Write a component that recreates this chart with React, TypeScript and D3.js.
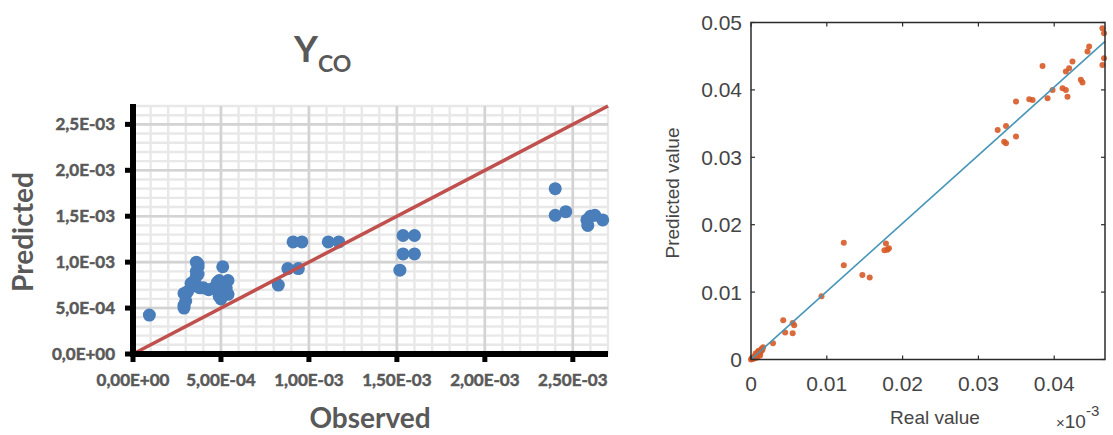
import React from "react";
import * as d3 from "d3";

// ---------- Left panel data (Excel style, Y_CO) ----------
const leftObserved = [
  0.093, 0.29, 0.29, 0.30, 0.29, 0.31, 0.33, 0.35, 0.36, 0.36, 0.37, 0.36, 0.37, 0.38, 0.40, 0.43, 0.46,
  0.48, 0.49, 0.49, 0.50, 0.51, 0.52, 0.54, 0.54, 0.53, 0.34, 0.37,
  0.826, 0.88, 0.94, 0.91, 0.96, 1.11, 1.17,
  1.517, 1.535, 1.60, 1.535, 1.60,
  2.40, 2.40, 2.46, 2.58, 2.585, 2.625, 2.67, 2.60,
].map((v) => v * 1e-3);
const leftPredicted = [
  0.424, 0.50, 0.53, 0.58, 0.66, 0.68, 0.77, 0.80, 0.85, 0.90, 0.95, 1.00, 0.98, 0.72, 0.72, 0.70, 0.72,
  0.78, 0.80, 0.63, 0.60, 0.95, 0.68, 0.80, 0.65, 0.72, 0.74, 0.87,
  0.75, 0.93, 0.93, 1.22, 1.22, 1.22, 1.22,
  0.913, 1.09, 1.09, 1.29, 1.29,
  1.80, 1.51, 1.55, 1.46, 1.40, 1.51, 1.46, 1.50,
].map((v) => v * 1e-3);
const leftXTicks = [0, 5e-4, 1e-3, 1.5e-3, 2e-3, 2.5e-3];
const leftXTickLabels = ["0,00E+00", "5,00E-04", "1,00E-03", "1,50E-03", "2,00E-03", "2,50E-03"];
const leftYTicks = [0, 5e-4, 1e-3, 1.5e-3, 2e-3, 2.5e-3];
const leftYTickLabels = ["0,0E+00", "5,0E-04", "1,0E-03", "1,5E-03", "2,0E-03", "2,5E-03"];
const leftMax = 2.7e-3;
const leftLine = [0, 2.7e-3];

// ---------- Right panel data (MATLAB style) ----------
const rightReal = [
  0.0000, 0.0002, 0.0003, 0.0005, 0.0006, 0.0008, 0.0010, 0.0012, 0.0013, 0.0015, 0.0014, 0.0016, 0.0010,
  0.0006, 0.0004, 0.0001, 0.0008, 0.0012, 0.0003, 0.0009,
  0.0029, 0.00425, 0.0045, 0.0055, 0.0055, 0.0057,
  0.0093, 0.01224, 0.01224, 0.01469, 0.01566,
  0.0176, 0.0180, 0.0182, 0.0178,
  0.03254, 0.03364, 0.03364, 0.0334, 0.03496, 0.03496, 0.03671, 0.03715, 0.03846, 0.03912, 0.03978,
  0.0411, 0.04154, 0.04175, 0.04154, 0.04197, 0.04241, 0.04351, 0.04373, 0.04439, 0.04461, 0.04636,
  0.04636, 0.04658, 0.04658,
];
const rightPredicted = [
  0.0000, 0.0001, 0.0003, 0.0002, 0.0005, 0.0006, 0.0008, 0.0010, 0.0012, 0.0014, 0.0016, 0.0018, 0.0013,
  0.0009, 0.0004, 0.0002, 0.0003, 0.0006, 0.0001, 0.0011,
  0.0024, 0.00584, 0.0040, 0.0054, 0.0039, 0.0051,
  0.0094, 0.01733, 0.0140, 0.01252, 0.01218,
  0.0162, 0.0163, 0.0165, 0.0172,
  0.03406, 0.03465, 0.03208, 0.0323, 0.03307, 0.03827, 0.03861, 0.03851, 0.04356, 0.03876, 0.0400,
  0.04025, 0.0400, 0.0390, 0.04272, 0.04322, 0.04421, 0.04149, 0.04109, 0.04569, 0.04644, 0.04916,
  0.04371, 0.0447, 0.0484,
];
const rightXTicks = [0, 0.01, 0.02, 0.03, 0.04];
const rightXTickLabels = ["0", "0.01", "0.02", "0.03", "0.04"];
const rightYTicks = [0, 0.01, 0.02, 0.03, 0.04, 0.05];
const rightYTickLabels = ["0", "0.01", "0.02", "0.03", "0.04", "0.05"];
const rightXMax = 0.0467;
const rightYMax = 0.05;
const rightFitX = [0, 0.0467];
const rightFitY = [0, 0.0472];

const LGRAY = "#595959";

function LeftPanel() {
  const x = d3.scaleLinear().domain([0, leftMax]).range([133, 608]);
  const y = d3.scaleLinear().domain([0, leftMax]).range([354, 106]);
  const minor = d3.range(0, leftMax + 1e-9, 1e-4);
  const font = "Lato, 'Open Sans', sans-serif";
  const line = d3.line<number>().x((d) => x(d)).y((d) => y(d));
  return (
    <g>
      {/* minor grid */}
      {minor.map((v, i) => (
        <g key={"mg" + i}>
          <line x1={x(v)} x2={x(v)} y1={y(leftMax)} y2={y(0)} stroke="#e8e8e8" strokeWidth={2.4} />
          <line x1={x(0)} x2={x(leftMax)} y1={y(v)} y2={y(v)} stroke="#e8e8e8" strokeWidth={2.4} />
        </g>
      ))}
      {/* major grid */}
      {leftXTicks.map((v, i) => (
        <line key={"gx" + i} x1={x(v)} x2={x(v)} y1={y(leftMax)} y2={y(0)} stroke="#d3d3d3" strokeWidth={2.6} />
      ))}
      {leftYTicks.map((v, i) => (
        <line key={"gy" + i} x1={x(0)} x2={x(leftMax)} y1={y(v)} y2={y(v)} stroke="#d3d3d3" strokeWidth={2.6} />
      ))}
      {/* points */}
      {leftObserved.map((v, i) => (
        <circle key={"p" + i} cx={x(v)} cy={y(leftPredicted[i])} r={6.5} fill="#4a7ebb" />
      ))}
      {/* red line */}
      <path d={line(leftLine) || ""} stroke="#c0504d" strokeWidth={3.5} fill="none" />
      {/* axes */}
      <line x1={x(0)} x2={x(0)} y1={y(leftMax) - 2} y2={y(0) + 3} stroke="#000" strokeWidth={6} />
      <line x1={x(0) - 3} x2={x(leftMax)} y1={y(0)} y2={y(0)} stroke="#000" strokeWidth={6} />
      {leftYTicks.map((v, i) => (
        <line key={"ty" + i} x1={x(0) - 8} x2={x(0)} y1={y(v)} y2={y(v)} stroke="#000" strokeWidth={5} />
      ))}
      {leftXTicks.map((v, i) => (
        <line key={"tx" + i} x1={x(v)} x2={x(v)} y1={y(0)} y2={y(0) + 8} stroke="#000" strokeWidth={5} />
      ))}
      {/* tick labels */}
      {leftYTicks.map((v, i) => (
        <text key={"ly" + i} x={x(0) - 18} y={y(v)} dy="0.36em" textAnchor="end" fontFamily={font}
          fontWeight={700} fontSize={17} fill={LGRAY} stroke={LGRAY} strokeWidth={0.5}>{leftYTickLabels[i]}</text>
      ))}
      {leftXTicks.map((v, i) => (
        <text key={"lx" + i} x={x(v)} y={386} textAnchor="middle" fontFamily={font}
          fontWeight={700} fontSize={17} fill={LGRAY} stroke={LGRAY} strokeWidth={0.5}>{leftXTickLabels[i]}</text>
      ))}
      {/* axis titles */}
      <text x={370} y={428} textAnchor="middle" fontFamily={font} fontWeight={700} fontSize={28} fill={LGRAY}>Observed</text>
      <text transform="translate(33,232) rotate(-90)" textAnchor="middle" fontFamily={font} fontWeight={700}
        fontSize={28} fill={LGRAY}>Predicted</text>
      {/* title */}
      <text x={294} y={62} fontFamily={font} fontWeight={700} fontSize={37} fill={LGRAY}>
        Y<tspan fontSize={23} dy={10}>CO</tspan>
      </text>
    </g>
  );
}

function RightPanel() {
  const x = d3.scaleLinear().domain([0, rightXMax]).range([751, 1105]);
  const y = d3.scaleLinear().domain([0, rightYMax]).range([359.5, 22.5]);
  const font = "'Liberation Sans', Arial, sans-serif";
  const tc = "#454545";
  const fit = d3.line<number>().x((d) => x(d)).y((_, i) => y(rightFitY[i]));
  return (
    <g>
      {/* points */}
      {rightReal.map((v, i) => (
        <circle key={"o" + i} cx={x(v)} cy={y(rightPredicted[i])} r={3} fill="#d75a28" fillOpacity={0.9} />
      ))}
      <path d={fit(rightFitX) || ""} stroke="#4896b8" strokeWidth={1.6} fill="none" />
      {/* box */}
      <rect x={x(0)} y={y(rightYMax)} width={x(rightXMax) - x(0)} height={y(0) - y(rightYMax)} fill="none"
        stroke="#2b2b2b" strokeWidth={1.5} />
      {/* ticks inward */}
      {rightXTicks.map((v, i) => (
        <g key={"rxt" + i}>
          <line x1={x(v)} x2={x(v)} y1={y(0)} y2={y(0) - 4} stroke="#2b2b2b" strokeWidth={1.2} />
          <line x1={x(v)} x2={x(v)} y1={y(rightYMax)} y2={y(rightYMax) + 4} stroke="#2b2b2b" strokeWidth={1.2} />
        </g>
      ))}
      {rightYTicks.map((v, i) => (
        <g key={"ryt" + i}>
          <line x1={x(0)} x2={x(0) + 4} y1={y(v)} y2={y(v)} stroke="#2b2b2b" strokeWidth={1.2} />
          <line x1={x(rightXMax)} x2={x(rightXMax) - 4} y1={y(v)} y2={y(v)} stroke="#2b2b2b" strokeWidth={1.2} />
        </g>
      ))}
      {/* tick labels */}
      {rightXTicks.map((v, i) => (
        <text key={"rxl" + i} x={x(v)} y={391} textAnchor="middle" fontFamily={font} fontSize={21} fill={tc}>
          {rightXTickLabels[i]}
        </text>
      ))}
      {rightYTicks.map((v, i) => (
        <text key={"ryl" + i} x={742} y={y(v)} dy="0.36em" textAnchor="end" fontFamily={font} fontSize={21} fill={tc}>
          {rightYTickLabels[i]}
        </text>
      ))}
      <text x={935} y={424} textAnchor="middle" fontFamily={font} fontSize={19} fill={tc}>Real value</text>
      <text transform="translate(679,193) rotate(-90)" textAnchor="middle" fontFamily={font} fontSize={19} fill={tc}>
        Predicted value
      </text>
      <text x={1056} y={428} fontFamily={font} fontSize={19} fill={tc}>
        <tspan fontSize={15}>×</tspan>10<tspan fontSize={15} dy={-12}>-3</tspan>
      </text>
    </g>
  );
}

export default function App() {
  return (
    <svg width={1113} height={435} style={{ position: "absolute", left: 0, top: 0, background: "#fff" }}>
      <rect width={1113} height={435} fill="#fff" />
      <LeftPanel />
      <RightPanel />
    </svg>
  );
}
